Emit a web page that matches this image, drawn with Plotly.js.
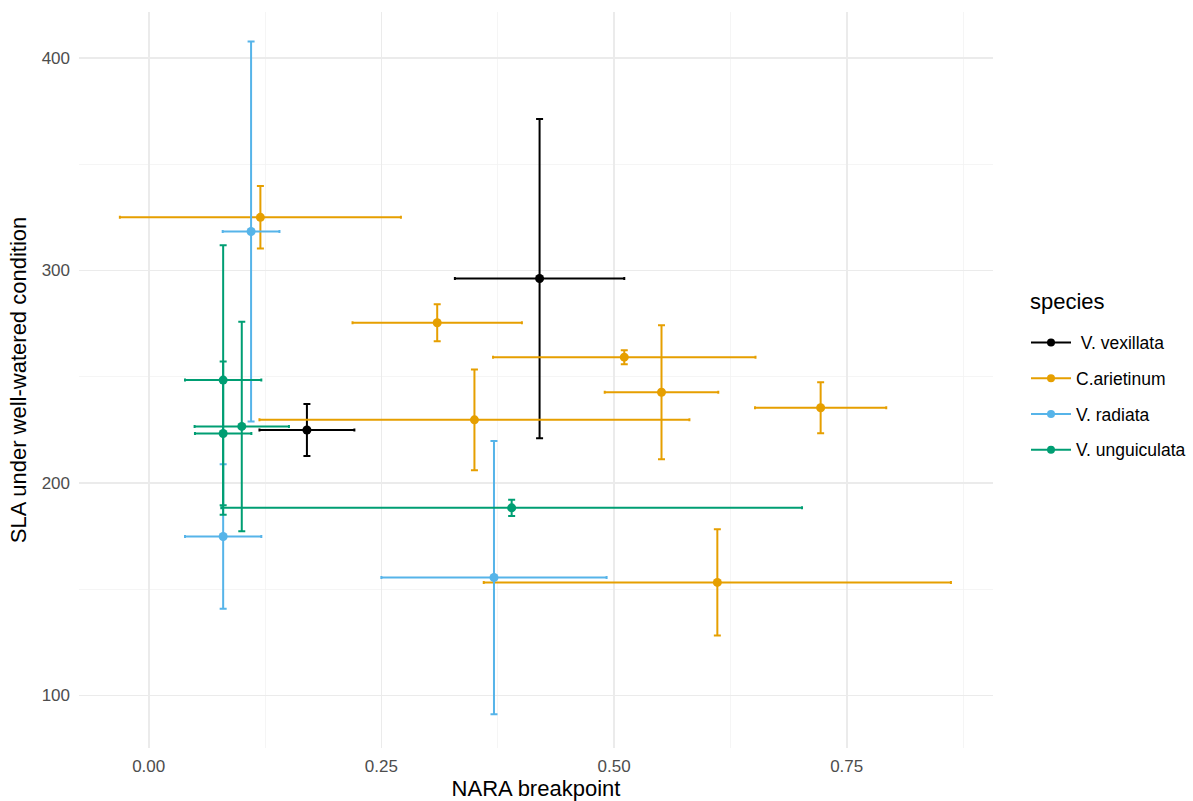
<!DOCTYPE html>
<html>
<head>
<meta charset="utf-8">
<script src="https://cdn.plot.ly/plotly-3.0.1.min.js"></script>
<style>html,body{margin:0;padding:0;background:#fff;}#chart{width:1193px;height:801px;}</style>
</head>
<body>
<div id="chart"></div>
<script>
// Data
const speciesNames = [" V. vexillata", "C.arietinum", "V. radiata", "V. unguiculata"];
const speciesColors = ["#000000", "#E69F00", "#56B4E9", "#009E73"];
const legendTitle = "species";

const vexX = [0.42, 0.17];
const vexY = [296.2, 224.9];
const vexXerr = [0.091, 0.051];
const vexYerr = [75.1, 12.2];

const ariX = [0.12, 0.31, 0.511, 0.551, 0.350, 0.722, 0.611];
const ariY = [325.0, 275.4, 259.2, 242.7, 229.7, 235.4, 153.2];
const ariXerr = [0.151, 0.091, 0.141, 0.061, 0.231, 0.0705, 0.251];
const ariYerr = [14.7, 8.7, 3.3, 31.5, 23.7, 12.0, 25.0];

const radX = [0.110, 0.080, 0.371];
const radY = [318.3, 174.8, 155.5];
const radXerr = [0.0305, 0.041, 0.121];
const radYerr = [89.4, 34.0, 64.3];

const ungX = [0.080, 0.080, 0.100, 0.390];
const ungY = [248.4, 223.3, 226.6, 188.3];
const ungXerr = [0.041, 0.0303, 0.0507, 0.312];
const ungYerr = [63.4, 33.8, 49.3, 3.8];

const xTickVals = [0, 0.25, 0.5, 0.75];
const xTickText = ["0.00", "0.25", "0.50", "0.75"];
const yTickVals = [100, 200, 300, 400];

const series = [
  [vexX, vexY, vexXerr, vexYerr],
  [ariX, ariY, ariXerr, ariYerr],
  [radX, radY, radXerr, radYerr],
  [ungX, ungY, ungXerr, ungYerr]
];

const traces = [];
series.forEach((s, i) => {
  traces.push({
    type: 'scatter', mode: 'markers',
    x: s[0], y: s[1],
    name: speciesNames[i],
    showlegend: false,
    legendgroup: 'g' + i,
    marker: {color: speciesColors[i], size: 9},
    error_x: {type: 'data', array: s[2], visible: true, color: speciesColors[i], thickness: 2, width: 1.5},
    error_y: {type: 'data', array: s[3], visible: true, color: speciesColors[i], thickness: 2, width: 3.5},
    hoverinfo: 'x+y'
  });
});
// legend entries (line + point key)
series.forEach((s, i) => {
  traces.push({
    type: 'scatter', mode: 'lines+markers',
    x: [null], y: [null],
    name: speciesNames[i],
    legendgroup: 'g' + i,
    showlegend: true,
    line: {color: speciesColors[i], width: 2},
    marker: {color: speciesColors[i], size: 8}
  });
});

const font = "Liberation Sans, Arial, Helvetica, sans-serif";
const layout = {
  width: 1193, height: 801,
  paper_bgcolor: '#ffffff', plot_bgcolor: '#ffffff',
  margin: {l: 79, r: 200, t: 12, b: 53},
  font: {family: font, color: '#000000'},
  showlegend: true,
  xaxis: {
    range: [-0.0749, 0.9072],
    tickvals: xTickVals, ticktext: xTickText,
    showgrid: true, gridcolor: '#EBEBEB', gridwidth: 1.6,
    minor: {dtick: 0.125, tick0: 0, showgrid: true, gridcolor: '#F2F2F2', gridwidth: 0.8},
    zeroline: false, showline: false, ticks: '',
    ticklabelstandoff: 6,
    tickfont: {family: font, size: 17, color: '#4D4D4D'},
    title: {text: 'NARA breakpoint', font: {family: font, size: 22, color: '#000000'}, standoff: 4}
  },
  yaxis: {
    range: [75.3, 421.6],
    tickvals: yTickVals,
    showgrid: true, gridcolor: '#EBEBEB', gridwidth: 1.6,
    minor: {dtick: 50, tick0: 0, showgrid: true, gridcolor: '#F2F2F2', gridwidth: 0.8},
    zeroline: false, showline: false, ticks: '',
    ticklabelstandoff: 8,
    tickfont: {family: font, size: 17, color: '#4D4D4D'},
    title: {text: 'SLA under well-watered condition', font: {family: font, size: 22, color: '#000000'}, standoff: 8}
  },
  legend: {
    xref: 'container', yref: 'container',
    x: 1026 / 1193, xanchor: 'left', y: 1 - 396 / 801, yanchor: 'middle',
    font: {family: font, size: 17.5, color: '#000000'},
    tracegroupgap: 10,
    itemwidth: 40,
    bgcolor: 'rgba(0,0,0,0)'
  },
  annotations: [{
    text: legendTitle, xref: 'paper', yref: 'paper',
    x: (1028 - 79) / 914, y: (748.3 - 302) / 736.3,
    xanchor: 'left', yanchor: 'middle', showarrow: false,
    font: {family: font, size: 22, color: '#000000'}
  }]
};

Plotly.newPlot('chart', traces, layout, {displayModeBar: false, staticPlot: true});
</script>
</body>
</html>
